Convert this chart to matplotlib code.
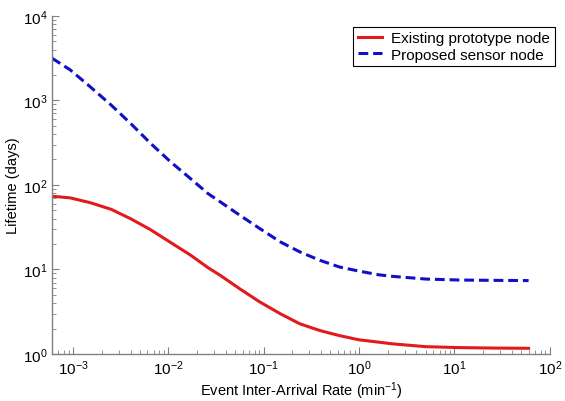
import matplotlib
matplotlib.use("Agg")
import matplotlib.pyplot as plt
from matplotlib.ticker import LogLocator, NullFormatter

plt.rcParams['font.family'] = ['Liberation Sans', 'DejaVu Sans']
plt.rcParams['mathtext.default'] = 'regular'

# event inter-arrival rate (1/min)
rate = [6.0e-4, 9.3e-4, 1.5e-3, 2.5e-3, 4.0e-3, 6.5e-3, 1.05e-2, 1.7e-2,
        2.6e-2, 3.5e-2, 5.6e-2, 9.1e-2, 0.15, 0.24, 0.39, 0.62, 1.0, 1.6,
        2.2, 5.0, 11, 25, 60]

# lifetime in days
existing_node = [73.5, 70.3, 61.8, 51.5, 39.9, 29.5, 20.9, 14.8, 10.5, 8.5,
                 5.9, 4.12, 2.98, 2.27, 1.89, 1.65, 1.47, 1.38, 1.32, 1.22,
                 1.19, 1.175, 1.167]
proposed_node = [3160, 2300, 1460, 883, 535, 310, 188, 119, 79, 63,
                 43.8, 30.4, 21.1, 16.1, 12.8, 10.7, 9.55, 8.65, 8.3, 7.7,
                 7.5, 7.43, 7.38]

series_names = ['Existing prototype node', 'Proposed sensor node']

fig = plt.figure(figsize=(5.65, 4.02), dpi=100)
ax = fig.add_axes([0.092, 0.117, 0.881, 0.841])

ax.plot(rate, existing_node, color='#e31a1c', linewidth=2.2, label=series_names[0])
ax.plot(rate, proposed_node, color='#1010c8', linewidth=2.2, linestyle=(0, (3.2, 1.6)),
        label=series_names[1])

ax.set_xscale('log')
ax.set_yscale('log')
ax.set_xlim(6e-4, 100)
ax.set_ylim(1, 1e4)

ax.xaxis.set_major_locator(LogLocator(base=10, numticks=10))
ax.xaxis.set_minor_locator(LogLocator(base=10, subs=range(2, 10), numticks=100))
ax.yaxis.set_major_locator(LogLocator(base=10, numticks=10))
ax.yaxis.set_minor_locator(LogLocator(base=10, subs=range(2, 10), numticks=100))
ax.xaxis.set_minor_formatter(NullFormatter())
ax.yaxis.set_minor_formatter(NullFormatter())

for side in ['top', 'right']:
    ax.spines[side].set_visible(False)
for side in ['left', 'bottom']:
    ax.spines[side].set_color('#808080')
    ax.spines[side].set_linewidth(1.0)

ax.tick_params(which='both', direction='in', colors='#808080', labelcolor='black',
               top=False, right=False)
ax.tick_params(which='major', length=5, labelsize=11, pad=3)
ax.tick_params(which='minor', length=3)

ax.set_xlabel('Event Inter-Arrival Rate (min$^{-1}$)', fontsize=10.5, labelpad=2)
ax.set_ylabel('Lifetime (days)', fontsize=10.5, labelpad=2)

leg = ax.legend(loc='upper right', bbox_to_anchor=(1.01, 0.968), fontsize=11,
                fancybox=False, edgecolor='black', framealpha=1,
                handlelength=1.6, handletextpad=0.6, borderpad=0.3,
                labelspacing=0.15, borderaxespad=0)
leg.get_frame().set_linewidth(0.8)

fig.savefig('out.png', dpi=100)
